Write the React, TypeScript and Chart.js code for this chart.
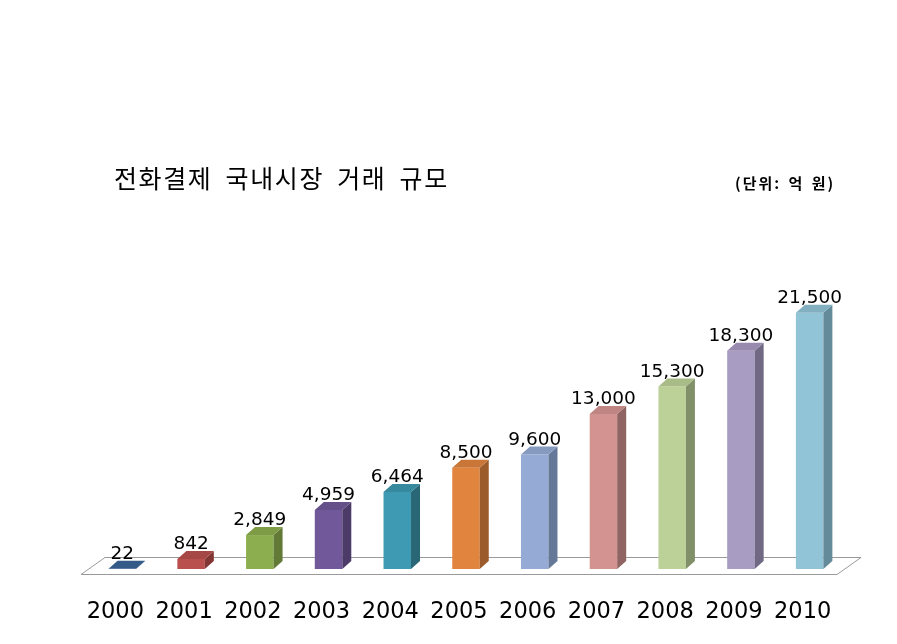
import React, { useEffect, useRef } from "react";
import { Chart, registerables } from "chart.js";

Chart.register(...registerables);

const categories = ["2000", "2001", "2002", "2003", "2004", "2005", "2006", "2007", "2008", "2009", "2010"];
const values = [22, 842, 2849, 4959, 6464, 8500, 9600, 13000, 15300, 18300, 21500];
const valueLabels = ["22", "842", "2,849", "4,959", "6,464", "8,500", "9,600", "13,000", "15,300", "18,300", "21,500"];
const frontColors = ["#3a6595", "#b9504d", "#8cae4e", "#71589a", "#3e9ab2", "#e0843e", "#95abd6", "#d39491", "#bcd197", "#a99cc2", "#92c4d7"];
const sideColors = ["#2a4a6e", "#833735", "#637a37", "#4c3b68", "#296776", "#9c5b2b", "#667898", "#8f6462", "#819068", "#716884", "#648b99"];
const topColors = ["#345b88", "#a54744", "#7e9c46", "#65508a", "#37899e", "#c97638", "#8699bf", "#be8583", "#a9bc88", "#9889ae", "#83b0c1"];

const title = "전화결제 국내시장 거래 규모";
const unitLabel = "(단위: 억 원)";

const DX = 9;
const DY = 8;

const bar3dPlugin = {
  id: "bar3d",
  beforeDatasetsDraw(chart: any) {
    const { ctx, chartArea } = chart;
    const y0 = chart.scales.y.getPixelForValue(0);
    ctx.save();
    ctx.beginPath();
    ctx.moveTo(chartArea.left - 7, y0 + 5.5);
    ctx.lineTo(chartArea.right - 7, y0 + 5.5);
    ctx.lineTo(chartArea.right + 17, y0 - 11.5);
    ctx.lineTo(chartArea.left + 17, y0 - 11.5);
    ctx.closePath();
    ctx.fillStyle = "#ffffff";
    ctx.fill();
    ctx.strokeStyle = "#9a9a9a";
    ctx.lineWidth = 1;
    ctx.stroke();
    ctx.restore();
  },
  afterDatasetsDraw(chart: any) {
    const { ctx } = chart;
    const meta = chart.getDatasetMeta(0);
    ctx.save();
    meta.data.forEach((bar: any, i: number) => {
      const { x, y, base, width } = bar.getProps(["x", "y", "base", "width"], true);
      const l = x - width / 2;
      const r = x + width / 2;
      ctx.fillStyle = sideColors[i];
      ctx.beginPath();
      ctx.moveTo(r, base);
      ctx.lineTo(r, y);
      ctx.lineTo(r + DX, y - DY);
      ctx.lineTo(r + DX, base - DY);
      ctx.closePath();
      ctx.fill();
      ctx.fillStyle = topColors[i];
      ctx.beginPath();
      ctx.moveTo(l, y);
      ctx.lineTo(r, y);
      ctx.lineTo(r + DX, y - DY);
      ctx.lineTo(l + DX, y - DY);
      ctx.closePath();
      ctx.fill();
      ctx.fillStyle = "#000000";
      ctx.font = '18.5px "DejaVu Sans"';
      ctx.textAlign = "center";
      ctx.textBaseline = "alphabetic";
      ctx.fillText(valueLabels[i], x, y - 10);
    });
    ctx.restore();
  },
};

export default function App() {
  const canvasRef = useRef<HTMLCanvasElement | null>(null);

  useEffect(() => {
    if (!canvasRef.current) return;
    const chart = new Chart(canvasRef.current, {
      type: "bar",
      data: {
        labels: categories,
        datasets: [
          {
            data: values,
            backgroundColor: frontColors,
            borderWidth: 0,
            categoryPercentage: 1,
            barPercentage: 0.4,
          },
        ],
      },
      options: {
        responsive: false,
        animation: false,
        devicePixelRatio: 1,
        layout: { padding: { top: 271, left: 88, right: 53, bottom: 0 } },
        plugins: {
          legend: { display: false },
          tooltip: { enabled: false },
          title: { display: false },
        },
        scales: {
          x: {
            grid: { display: false, drawTicks: false },
            border: { display: false },
            ticks: {
              color: "#000000",
              font: { family: "DejaVu Sans", size: 22.5, lineHeight: 1.2 },
              padding: 30,
              labelOffset: -7,
              maxRotation: 0,
              autoSkip: false,
            },
            afterFit: (scale: any) => {
              scale.height = 75;
            },
          },
          y: {
            display: false,
            min: 0,
            max: 25000,
          },
        },
      },
      plugins: [bar3dPlugin],
    });
    return () => chart.destroy();
  }, []);

  return (
    <div style={{ position: "fixed", left: 0, top: 0, width: 897, height: 644, background: "#ffffff", overflow: "hidden" }}>
      <canvas ref={canvasRef} width={897} height={644} style={{ width: 897, height: 644, display: "block" }} />
      <div
        style={{
          position: "absolute",
          left: 114,
          top: 165,
          fontFamily: '"Noto Sans CJK KR", sans-serif',
          fontSize: 25,
          lineHeight: "25px",
          letterSpacing: 1.6,
          wordSpacing: 6,
          color: "#000000",
          whiteSpace: "nowrap",
        }}
      >
        {title}
      </div>
      <div
        style={{
          position: "absolute",
          left: 735,
          top: 175,
          fontFamily: '"Noto Sans CJK KR", sans-serif',
          fontSize: 15,
          lineHeight: "15px",
          fontWeight: 700,
          letterSpacing: 2,
          wordSpacing: 2,
          color: "#000000",
          whiteSpace: "nowrap",
        }}
      >
        {unitLabel}
      </div>
    </div>
  );
}
